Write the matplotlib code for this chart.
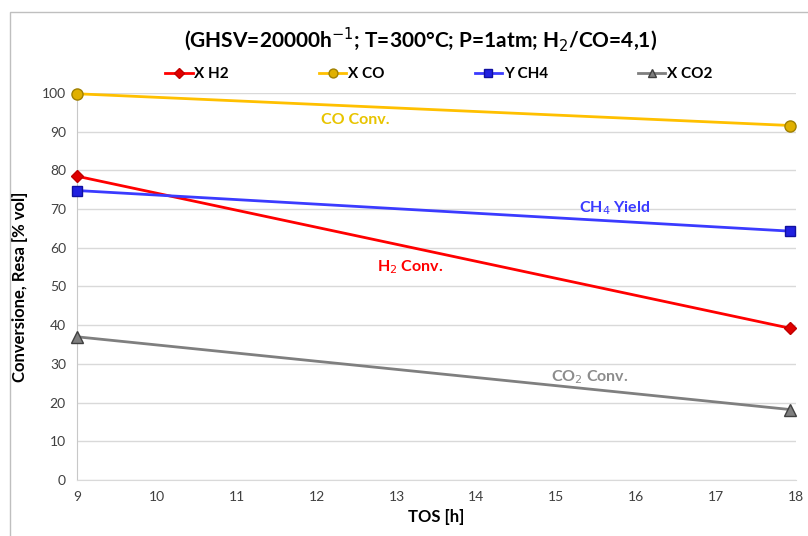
import matplotlib
matplotlib.use("Agg")
import matplotlib.pyplot as plt
from matplotlib.patches import Rectangle

plt.rcParams["font.family"] = ["Lato", "DejaVu Sans"]

# data
tos = [9, 17.93]
x_h2 = [78.5, 39.2]
x_co = [99.8, 91.6]
y_ch4 = [74.8, 64.3]
x_co2 = [37.0, 18.2]

series = [
    ("X H2", x_h2, "#FF0000", "D", "#E00000", "#C00000", 6),
    ("X CO", x_co, "#FFC000", "o", "#E0B000", "#A08000", 8),
    ("Y CH4", y_ch4, "#3B3BFF", "s", "#2020E0", "#1010A0", 7),
    ("X CO2", x_co2, "#7F7F7F", "^", "#7F7F7F", "#404040", 8),
]

# curve labels: (text, x, y, colour)
labels = [
    ("CO Conv.", 12.48, 93.0, "#E8C400"),
    ("CH$_4$ Yield", 15.73, 70.3, "#3B3BFF"),
    ("H$_2$ Conv.", 13.17, 55.0, "#FF0000"),
    ("CO$_2$ Conv.", 15.42, 26.6, "#8C8C8C"),
]

fig = plt.figure(figsize=(8.08, 5.36), dpi=100)
ax = fig.add_axes([0.0953, 0.1045, 0.8897, 0.722])

for name, ys, col, mk, fc, ec, ms in series:
    ax.plot(tos, ys, color=col, lw=2, marker=mk, markersize=ms,
            markerfacecolor=fc, markeredgecolor=ec, label=name, clip_on=False, zorder=3)

for txt, x, y, col in labels:
    ax.text(x, y, txt, color=col, fontsize=11.5, fontweight="bold",
            ha="center", va="center")

ax.set_xlim(9, 18)
ax.set_ylim(0, 100)
ax.set_xticks(range(9, 19))
ax.set_yticks(range(0, 101, 10))
ax.tick_params(length=0, labelsize=10, labelcolor="#404040", pad=8)
ax.grid(axis="y", color="#D9D9D9", lw=1)
ax.set_axisbelow(True)
for s in ["top", "right"]:
    ax.spines[s].set_visible(False)
ax.spines["left"].set_color("#C8C8C8")
ax.spines["bottom"].set_color("#D9D9D9")

ax.set_xlabel("TOS [h]", fontsize=12, fontweight="bold", labelpad=4)
ax.set_ylabel("Conversione, Resa [% vol]", fontsize=12, fontweight="bold", labelpad=10)

fig.text(0.52, 0.925, "(GHSV=20000h$^{-1}$; T=300°C; P=1atm; H$_2$/CO=4,1)",
         ha="center", va="center", fontsize=15, fontweight="bold")

fig.legend(loc="center", bbox_to_anchor=(0.543, 0.862), ncol=4, frameon=False,
           prop={"weight": "bold", "size": 11}, columnspacing=5.9,
           handlelength=1.8, handletextpad=0.1, markerscale=0.8)

fig.patches.append(Rectangle((0.012, -0.01), 1.0, 0.988, transform=fig.transFigure,
                             fill=False, edgecolor="#BFBFBF", lw=1))

fig.savefig("out.png", dpi=100)
